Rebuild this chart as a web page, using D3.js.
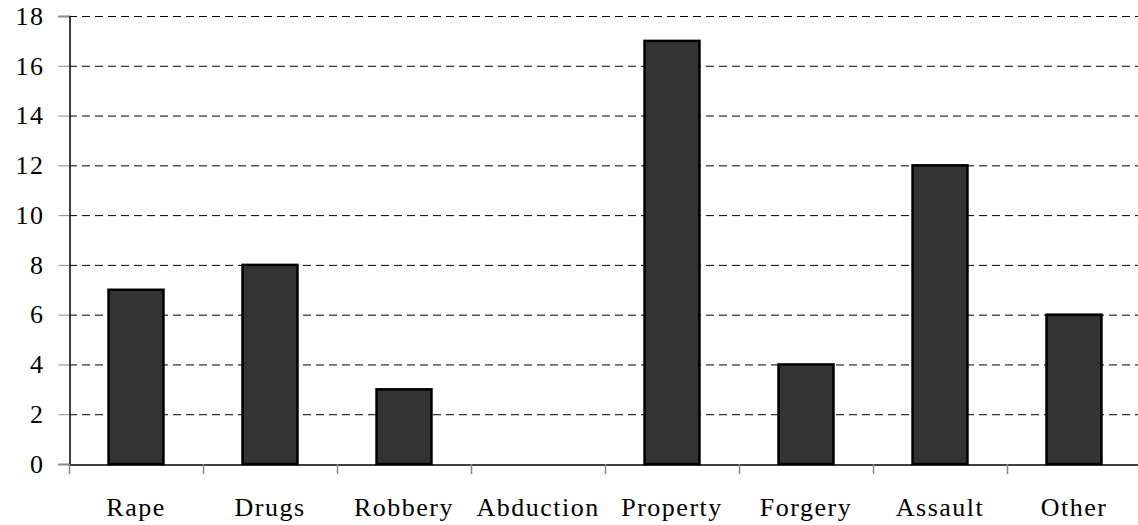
<!DOCTYPE html>
<html><head><meta charset="utf-8">
<script src="https://cdn.jsdelivr.net/npm/d3@7"></script>
<style>body{margin:0;background:#fff}svg{display:block}</style>
</head><body>
<script>
const categories = ["Rape","Drugs","Robbery","Abduction","Property","Forgery","Assault","Other"];
const values = [7,8,3,0,17,4,12,6];
const yTicks = [0,2,4,6,8,10,12,14,16,18];

const W = 1138, H = 525;
const m = {left:69, top:16, bottom:61};
const plotRight = 1141;
const svg = d3.select("body").append("svg").attr("width",W).attr("height",H);
const x = d3.scaleBand().domain(categories).range([m.left, plotRight]).paddingInner(0.59).paddingOuter(0.295);
const xt = d3.scaleBand().domain(categories).range([m.left, plotRight]);
const y = d3.scaleLinear().domain([0,18]).range([H-m.bottom, m.top]);
const fontFam = "'Liberation Serif', 'Times New Roman', serif";
const fs = "26px";

function styleText(sel){
  sel.style("font-family", fontFam, "important")
     .style("font-size", fs, "important")
     .style("letter-spacing", "1.5px", "important")
     .attr("fill","#000");
}

// gridlines
svg.append("g").selectAll("line").data(yTicks.filter(d=>d>0)).join("line")
  .attr("x1", m.left).attr("x2", W).attr("y1", d=>y(d)+0.5).attr("y2", d=>y(d)+0.5)
  .attr("stroke","#000").attr("stroke-width",1).attr("stroke-dasharray","8,5");

// y axis
const ya = svg.append("g").attr("transform",`translate(${m.left+0.5},0)`)
  .call(d3.axisLeft(y).tickValues(yTicks).tickSize(11).tickPadding(14))
  .attr("font-family", fontFam).attr("font-size", 26).attr("class","yaxis");
ya.select(".domain").attr("stroke","#000").attr("stroke-width",1.5).attr("class","ydomain");
ya.selectAll(".tick line").attr("stroke","#888");
ya.selectAll(".tick").attr("class","ytk");
styleText(ya.selectAll("text"));

// bars
svg.append("g").selectAll("rect").data(categories).join("rect")
  .attr("x", d=>x(d)).attr("width", x.bandwidth())
  .attr("y", (d,i)=>y(values[i])).attr("height",(d,i)=>y(0)-y(values[i]))
  .attr("fill","#333").attr("stroke","#000").attr("stroke-width",2.5);

// x axis
const xa = svg.append("g").attr("transform",`translate(0,${y(0)+0.5})`)
  .call(d3.axisBottom(xt).tickSize(0).tickPadding(33))
  .attr("font-family", fontFam).attr("font-size", 26).attr("class","xaxis");
xa.select(".domain").attr("stroke","#000").attr("stroke-width",1.5).attr("class","xdomain");
xa.selectAll(".tick").attr("class","xtk");
styleText(xa.selectAll("text"));
// category separator ticks
svg.append("g").selectAll("line").data(categories).join("line")
  .attr("x1", d=>xt(d)+0.5).attr("x2", d=>xt(d)+0.5)
  .attr("y1", y(0)).attr("y2", y(0)+10).attr("stroke","#888").attr("stroke-width",1.5);
</script>
</body></html>
